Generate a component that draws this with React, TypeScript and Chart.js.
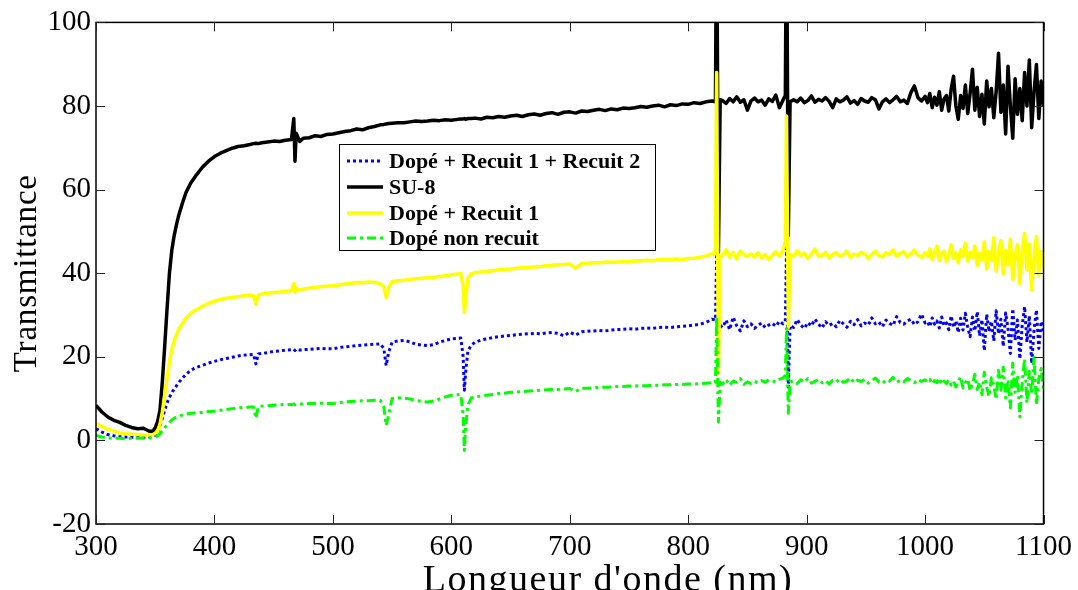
import React, { useEffect, useRef } from "react";
import { Chart, registerables } from "chart.js";

Chart.register(...registerables);

// ---- data ----
const wavelengths = [
  300, 305, 310, 315, 320, 325, 330, 335, 340, 345,
  348, 350, 352, 354, 356, 358, 360, 362, 364, 366, 368, 370, 373, 376, 380, 385, 390, 395, 400,
  405, 410, 415, 420, 425, 430,
  433, 435, 437,
  440, 445, 450, 455, 460, 465,
  467, 468, 469,
  472, 475, 480, 485, 490, 495, 500, 505, 510, 515, 520, 525, 530, 535, 540,
  543, 545, 547,
  550, 555, 560, 565, 570, 575, 580, 585, 590, 595, 600, 605, 608,
  610, 611, 612, 614,
  617, 620, 625, 630, 635, 640, 645, 650, 655, 660, 665, 670, 675, 680, 685, 690, 695, 700, 705, 710, 715,
  720, 725, 730, 735, 740, 745, 750, 755, 760, 765, 770, 775, 780, 785, 790, 795, 800, 805, 810, 815, 820,
  823, 824, 825.5, 827,
  829, 832, 835, 838, 841, 844, 847, 850, 853, 856, 859, 862, 865, 868, 871, 874, 877, 880,
  882, 883, 884.5, 886,
  889, 892, 895, 898, 901, 904, 907, 910, 913, 916, 919, 922, 925, 928, 931, 934, 937, 940, 943,
  946, 949, 952, 955, 958, 961, 964, 967, 970, 973, 976, 979, 982, 985, 988, 991, 994, 997, 1000,
  1002, 1004, 1006, 1008, 1010, 1012, 1014, 1016, 1018, 1020,
  1022, 1024, 1026, 1028, 1030, 1032, 1034, 1036, 1038, 1040,
  1042, 1044, 1046, 1048, 1050, 1052, 1054, 1056, 1058, 1060,
  1062, 1064, 1066, 1068, 1070, 1072, 1074, 1076, 1078, 1080,
  1082, 1084, 1086, 1088, 1090, 1092, 1094, 1096, 1098, 1100,
];

const dopeRecuit12 = [
  2.8, 2.0, 1.4, 1.1, 0.9, 0.8, 0.8, 0.7, 0.7, 0.8,
  0.9, 1.2, 2.0, 3.5, 5.3, 7.2, 9.0, 10.3, 11.4, 12.3, 13.1, 13.9, 14.9, 15.8, 16.8, 17.5, 18.0, 18.5, 18.9,
  19.3, 19.6, 19.9, 20.2, 20.4, 20.5,
  20.6, 18.3, 20.7,
  20.8, 21.0, 21.3, 21.4, 21.6, 21.7,
  21.8, 21.5, 21.8,
  21.6, 21.7, 21.8, 21.9, 22.0, 21.9, 21.9, 22.2, 22.4, 22.5, 22.7, 22.8, 22.9, 23.0, 23.1,
  22.0, 17.9, 21.0,
  23.5, 23.8, 23.9, 23.6, 23.0, 22.8, 22.7, 22.9, 23.5, 23.9, 24.3, 24.4, 24.5,
  20.0, 12.0, 16.0, 21.5,
  22.8, 23.5, 24.0, 24.3, 24.6, 24.8, 25.0, 25.1, 25.3, 25.4, 25.5, 25.6, 25.5, 25.7, 25.8, 25.6, 25.0, 25.9, 25.2, 26.0, 26.1,
  26.2, 26.3, 26.2, 26.4, 26.5, 26.6, 26.7, 26.6, 26.8, 26.9, 26.8, 27.0, 27.1, 27.0, 27.2, 27.3, 27.4, 27.6, 27.8, 28.2, 29.0,
  28.8, 44.0, 27.5, 27.5,
  27.0, 28.8, 26.5, 29.5, 27.4, 26.2, 28.6, 27.2, 27.9, 26.8, 27.5, 28.1, 27.0, 27.6, 28.0, 27.3, 28.5, 27.9,
  28.5, 46.0, 12.7, 27.5,
  27.0, 28.9, 27.6, 26.8, 28.2, 27.4, 29.0, 27.8, 26.9, 28.4, 27.5, 28.0, 27.2, 28.7, 27.9, 27.1, 28.5, 27.7, 28.9,
  27.4, 28.1, 27.6, 29.3, 27.9, 28.3, 27.2, 28.8, 28.0, 27.5, 29.6, 28.2, 27.8, 28.6, 29.0, 27.7, 28.4, 30.2, 28.1,
  28.4, 27.2, 29.3, 27.8, 28.6, 26.9, 29.5, 27.5, 28.1, 26.5,
  29.8, 27.0, 28.6, 25.8, 29.2, 26.4, 30.4, 27.1, 24.8, 29.5,
  26.2, 30.8, 25.0, 28.9, 21.5, 30.2, 26.0, 28.5, 23.8, 31.0,
  25.5, 29.0, 22.5, 30.5, 26.8, 20.8, 31.5, 24.0, 28.8, 19.5,
  27.5, 32.0, 23.5, 29.8, 18.4, 26.5, 31.2, 22.0, 28.5, 26.0,
];

const su8 = [
  8.4, 6.8, 5.6, 4.8, 4.3, 3.6, 3.1, 2.8, 2.9, 2.2,
  2.2, 3.0, 4.5, 7.2, 14.0, 22.5, 31.5, 40.0, 45.5, 49.0, 51.7, 54.0, 56.8, 59.3, 61.6, 63.6, 65.4, 66.8, 67.9,
  68.7, 69.3, 69.9, 70.3, 70.5, 70.8,
  71.0, 71.1, 71.0,
  71.2, 71.4, 71.6, 71.5, 71.8, 72.0,
  77.0, 66.8, 73.5,
  71.5, 72.3, 72.4, 72.9, 72.7, 73.2, 73.3, 73.6, 73.9, 74.1, 74.5, 74.3, 74.8, 75.1, 75.5,
  75.6, 75.7, 75.8,
  75.9, 76.0, 76.0, 76.2, 76.4, 76.3, 76.4, 76.6, 76.5, 76.7, 76.6, 76.8, 76.9,
  76.9, 77.0, 76.8, 77.0,
  77.0, 77.1, 76.9, 77.3, 77.2, 77.5, 77.3, 77.6, 77.8, 77.5, 77.9, 78.1, 77.8, 78.2, 78.4, 78.0, 78.5, 78.6, 78.3, 78.8, 78.7,
  79.0, 79.2, 78.9, 79.3, 79.1, 79.5, 79.4, 79.6, 79.9, 79.7, 80.0, 80.2, 79.8, 80.3, 80.1, 80.5, 80.4, 80.8, 80.6, 81.0, 81.2,
  81.0, 130.0, 45.0, 81.5,
  81.3, 80.6, 81.8, 81.0, 82.2, 80.9, 81.5, 79.0, 81.2, 81.9, 81.0, 81.4, 80.2, 81.7, 81.1, 82.6, 79.6, 81.4,
  82.5, 130.0, 49.0, 81.0,
  81.5, 81.0, 81.9, 80.8, 81.3, 82.4, 80.9, 81.6, 81.2, 82.0, 81.1, 79.6, 81.7, 81.0, 81.4, 82.2, 80.7, 81.3, 80.4,
  81.8, 81.2, 80.9, 82.0, 81.5, 79.3, 81.0, 81.7, 80.8, 81.5, 82.3, 81.0, 81.4, 80.6, 83.2, 84.8, 82.0, 81.2, 82.3,
  80.8, 83.0, 79.6, 82.1, 80.2, 83.4, 79.0, 81.7, 82.5, 78.8,
  84.0, 87.1, 80.0, 76.8, 82.5, 79.4, 85.0, 78.2, 83.0, 88.8,
  79.0, 84.5, 77.5, 82.8, 75.7, 86.0, 79.8, 84.2, 77.2, 83.5,
  92.6, 78.5, 85.0, 73.3, 89.5, 80.0, 72.3, 86.5, 78.0, 84.2,
  76.5, 88.0, 80.0, 91.0, 74.8, 83.5, 89.9, 77.0, 86.0, 80.0,
];

const dopeRecuit1 = [
  4.1, 3.3, 2.7, 2.2, 1.8, 1.6, 1.5, 1.4, 1.3, 1.3,
  1.4, 1.7, 2.2, 3.8, 6.8, 10.8, 15.0, 18.8, 21.8, 23.8, 25.3, 26.6, 28.0, 29.2, 30.4, 31.3, 32.1, 32.8, 33.3,
  33.7, 34.0, 34.2, 34.4, 34.6, 34.7,
  34.6, 32.6, 34.8,
  35.0, 35.2, 35.4, 35.5, 35.7, 35.8,
  37.5, 35.5, 36.5,
  36.0, 36.2, 36.4, 36.6, 36.8, 36.9, 37.0, 37.2, 37.4, 37.6, 37.8, 37.7, 37.9, 37.8, 37.5,
  36.8, 34.2, 36.5,
  38.0, 38.2, 38.3, 38.5, 38.7, 38.8, 38.9, 39.0, 39.2, 39.4, 39.6, 39.8, 39.9,
  37.0, 30.6, 33.5, 38.8,
  39.9, 40.1, 40.3, 40.4, 40.6, 40.8, 40.9, 41.0, 41.2, 41.3, 41.4, 41.5, 41.6, 41.8, 41.9, 42.0, 42.1, 42.2, 41.2, 42.3, 42.4,
  42.5, 42.5, 42.6, 42.7, 42.6, 42.8, 42.8, 42.9, 43.0, 43.1, 43.0, 43.2, 43.3, 43.2, 43.4, 43.3, 43.5, 43.6, 43.8, 44.1, 44.6,
  44.8, 88.0, 16.0, 44.0,
  44.2, 45.6, 43.8, 45.0, 43.4, 45.3, 44.4, 44.0, 44.6, 43.9, 44.9, 43.6, 44.5, 43.2, 44.3, 45.1, 44.0, 45.4,
  47.5, 77.6, 27.0, 44.5,
  44.0, 45.4, 44.2, 44.8, 43.5, 44.6, 45.8, 44.0, 44.3, 45.0, 43.6, 44.5, 44.9, 44.1, 44.4, 45.3, 43.8, 44.6, 44.2,
  45.0, 44.7, 43.5, 44.5, 45.2, 44.2, 43.9, 44.9, 44.4, 45.6, 44.0, 44.8, 45.1, 43.9, 44.6, 45.5, 44.3, 43.8, 44.9,
  44.0, 45.8, 43.2, 44.9, 46.5, 43.0, 44.6, 45.3, 42.8, 44.2,
  46.8, 43.5, 44.9, 42.5, 45.6, 44.1, 47.2, 42.9, 45.0, 43.6,
  46.5, 41.8, 44.8, 43.2, 47.5, 41.0, 45.2, 43.0, 48.5, 40.5,
  44.6, 47.8, 39.8, 45.5, 42.0, 48.2, 38.5, 44.0, 46.8, 37.5,
  45.5, 49.5, 40.8, 47.0, 36.0, 43.5, 48.8, 39.5, 45.2, 41.4,
];

const dopeNonRecuit = [
  1.2, 0.8, 0.6, 0.5, 0.5, 0.4, 0.5, 0.5, 0.5, 0.6,
  0.6, 0.8, 1.1, 1.6, 2.3, 3.0, 3.7, 4.3, 4.9, 5.3, 5.6, 5.8, 6.1, 6.3, 6.5, 6.6, 6.7, 6.9, 7.0,
  7.2, 7.4, 7.6, 7.8, 7.9, 8.0,
  8.0, 5.3, 8.1,
  8.2, 8.3, 8.4, 8.5, 8.6, 8.6,
  8.7, 8.5, 8.7,
  8.7, 8.7, 8.8, 8.8, 8.9, 8.8, 8.8, 9.0, 9.2, 9.3, 9.4, 9.5, 9.5, 9.6, 9.6,
  8.0, 3.6, 6.0,
  10.0, 10.2, 10.1, 9.9, 9.6, 9.3, 9.2, 9.4, 9.9, 10.4, 10.8, 10.9, 11.0,
  6.0, -2.4, 3.0, 8.5,
  10.2, 10.4, 10.6, 10.8, 11.0, 11.2, 11.3, 11.5, 11.6, 11.7, 11.8, 11.9, 12.0, 12.1, 12.2, 12.2, 12.3, 12.4, 11.7, 12.5, 12.5,
  12.6, 12.7, 12.7, 12.8, 12.9, 12.9, 13.0, 13.0, 13.1, 13.1, 13.2, 13.2, 13.3, 13.3, 13.4, 13.4, 13.5, 13.5, 13.6, 13.7, 13.8,
  13.8, 29.5, 4.4, 13.9,
  13.5, 14.6, 13.2, 14.2, 13.9, 14.8, 13.4, 14.0, 13.6, 14.1, 13.8, 14.3, 13.9, 14.5, 14.2, 14.0, 14.6, 14.9,
  15.5, 27.0, 6.5, 14.0,
  14.2, 13.6, 14.5, 13.9, 14.8, 13.7, 14.1, 14.6, 13.8, 14.3, 13.5, 14.4, 14.0, 14.7, 13.9, 14.2, 15.0, 13.8, 14.4,
  14.1, 14.6, 13.7, 14.3, 14.9, 14.0, 13.6, 14.5, 14.2, 15.1, 13.9, 14.4, 14.0, 14.8, 14.3, 13.8, 14.6, 14.1, 14.5,
  14.0, 14.6, 13.5, 14.3, 13.8, 14.9, 13.4, 14.2, 13.6, 14.5,
  13.2, 14.1, 12.8, 13.9, 15.2, 12.6, 13.8, 14.7, 11.9, 13.5,
  15.8, 12.2, 14.0, 11.0, 16.3, 12.8, 10.5, 15.0, 13.2, 9.8,
  16.8, 12.0, 17.5, 10.2, 14.5, 7.8, 18.5, 11.5, 15.6, 5.6,
  13.8, 19.5, 9.0, 16.5, 11.0, 20.3, 8.5, 14.8, 17.2, 12.0,
];

const xTickValues = [300, 400, 500, 600, 700, 800, 900, 1000, 1100];
const yTickValues = [-20, 0, 20, 40, 60, 80, 100];
const seriesLabels = ["Dopé + Recuit 1 + Recuit 2", "SU-8", "Dopé + Recuit 1", "Dopé non recuit"];
const xTitle = "Longueur d'onde (nm)";
const yTitle = "Transmittance";

// ---- styles ----
const FONT = "'Liberation Serif', 'Times New Roman', serif";
const seriesStyles = [
  { color: "#0000ff", width: 3, dash: [3, 3] },
  { color: "#000000", width: 3.5, dash: [] as number[] },
  { color: "#ffff00", width: 3.5, dash: [] as number[] },
  { color: "#00ff00", width: 3, dash: [9, 4, 3, 4] },
];
const drawOrder = [4, 3, 2, 1];

function toPoints(ys: number[]) {
  const n = Math.min(ys.length, wavelengths.length);
  const out: { x: number; y: number }[] = [];
  for (let i = 0; i < n; i++) out.push({ x: wavelengths[i], y: ys[i] });
  return out;
}

const framePlugin = {
  id: "matlabFrame",
  afterDatasetsDraw(chart: any) {
    const { ctx, chartArea, scales } = chart;
    const { left, top, right, bottom } = chartArea;
    const xs = scales.x;
    const ys = scales.y;
    ctx.save();
    // frame
    ctx.strokeStyle = "#000";
    ctx.lineWidth = 1.5;
    ctx.setLineDash([]);
    ctx.strokeRect(left, top, right - left, bottom - top);
    // inward ticks on all sides
    ctx.lineWidth = 1;
    ctx.strokeStyle = "#222";
    const tl = 9;
    ctx.beginPath();
    xTickValues.forEach((v) => {
      const px = Math.round(xs.getPixelForValue(v)) + 0.5;
      ctx.moveTo(px, bottom);
      ctx.lineTo(px, bottom - tl);
      ctx.moveTo(px, top);
      ctx.lineTo(px, top + tl);
    });
    yTickValues.forEach((v) => {
      const py = Math.round(ys.getPixelForValue(v)) + 0.5;
      ctx.moveTo(left, py);
      ctx.lineTo(left + tl, py);
      ctx.moveTo(right, py);
      ctx.lineTo(right - tl, py);
    });
    ctx.stroke();

    // legend box
    const bx = 339, by = 144, bw = 316, bh = 106;
    ctx.fillStyle = "#fff";
    ctx.fillRect(bx, by, bw, bh);
    ctx.strokeStyle = "#000";
    ctx.lineWidth = 1;
    ctx.strokeRect(bx + 0.5, by + 0.5, bw, bh);
    const rows = [161, 187, 213, 238];
    ctx.font = `bold 22px ${FONT}`;
    ctx.textBaseline = "middle";
    ctx.textAlign = "left";
    seriesLabels.forEach((lab, i) => {
      const st = seriesStyles[i];
      ctx.beginPath();
      ctx.strokeStyle = st.color;
      ctx.lineWidth = st.width;
      ctx.setLineDash(st.dash);
      ctx.moveTo(347, rows[i]);
      ctx.lineTo(383, rows[i]);
      ctx.stroke();
      ctx.setLineDash([]);
      ctx.fillStyle = "#000";
      ctx.fillText(lab, 389, rows[i] + 1);
    });

    // axis titles
    ctx.fillStyle = "#000";
    ctx.textAlign = "center";
    ctx.textBaseline = "alphabetic";
    ctx.font = `38px ${FONT}`;
    try { (ctx as any).letterSpacing = "1.5px"; } catch (e) { /* ignore */ }
    ctx.fillText(xTitle, 608, 591);
    ctx.save();
    ctx.font = `33px ${FONT}`;
    try { (ctx as any).letterSpacing = "0.8px"; } catch (e) { /* ignore */ }
    ctx.translate(36, (top + bottom) / 2);
    ctx.rotate(-Math.PI / 2);
    ctx.fillText(yTitle, 0, 0);
    ctx.restore();
    try { (ctx as any).letterSpacing = "0px"; } catch (e) { /* ignore */ }
    ctx.restore();
  },
};

export default function App() {
  const ref = useRef<HTMLCanvasElement | null>(null);
  useEffect(() => {
    if (!ref.current) return;
    const all = [dopeRecuit12, su8, dopeRecuit1, dopeNonRecuit];
    const chart = new Chart(ref.current, {
      type: "line",
      data: {
        datasets: all.map((ys, i) => ({
          label: seriesLabels[i],
          data: toPoints(ys),
          borderColor: seriesStyles[i].color,
          backgroundColor: seriesStyles[i].color,
          borderWidth: seriesStyles[i].width,
          borderDash: seriesStyles[i].dash,
          borderCapStyle: "butt",
          borderJoinStyle: "round",
          pointRadius: 0,
          tension: 0,
          fill: false,
          order: drawOrder[i],
        })),
      },
      options: {
        animation: false,
        responsive: false,
        events: [],
        layout: { padding: { top: 21, right: 34, left: 0, bottom: 0 } },
        plugins: { legend: { display: false }, tooltip: { enabled: false }, title: { display: false } },
        scales: {
          x: {
            type: "linear",
            min: 300,
            max: 1100,
            grid: { display: false, drawTicks: false },
            border: { display: false },
            afterFit: (s: any) => { s.height = 66; },
            afterBuildTicks: (s: any) => { s.ticks = xTickValues.map((v) => ({ value: v })); },
            ticks: {
              color: "#000",
              font: { family: FONT, size: 29 },
              padding: 6,
              maxRotation: 0,
              callback: (v: any) => String(v),
            },
          },
          y: {
            type: "linear",
            min: -20,
            max: 100,
            grid: { display: false, drawTicks: false },
            border: { display: false },
            afterFit: (s: any) => { s.width = 96; },
            afterBuildTicks: (s: any) => { s.ticks = yTickValues.map((v) => ({ value: v })); },
            ticks: { color: "#000", font: { family: FONT, size: 29 }, padding: 5, callback: (v: any) => String(v) },
          },
        },
      },
      plugins: [framePlugin],
    } as any);
    return () => chart.destroy();
  }, []);
  return (
    <div style={{ position: "fixed", left: 0, top: 0, width: 1078, height: 590, background: "#fff" }}>
      <canvas ref={ref} width={1078} height={590} style={{ display: "block", width: 1078, height: 590 }} />
    </div>
  );
}
